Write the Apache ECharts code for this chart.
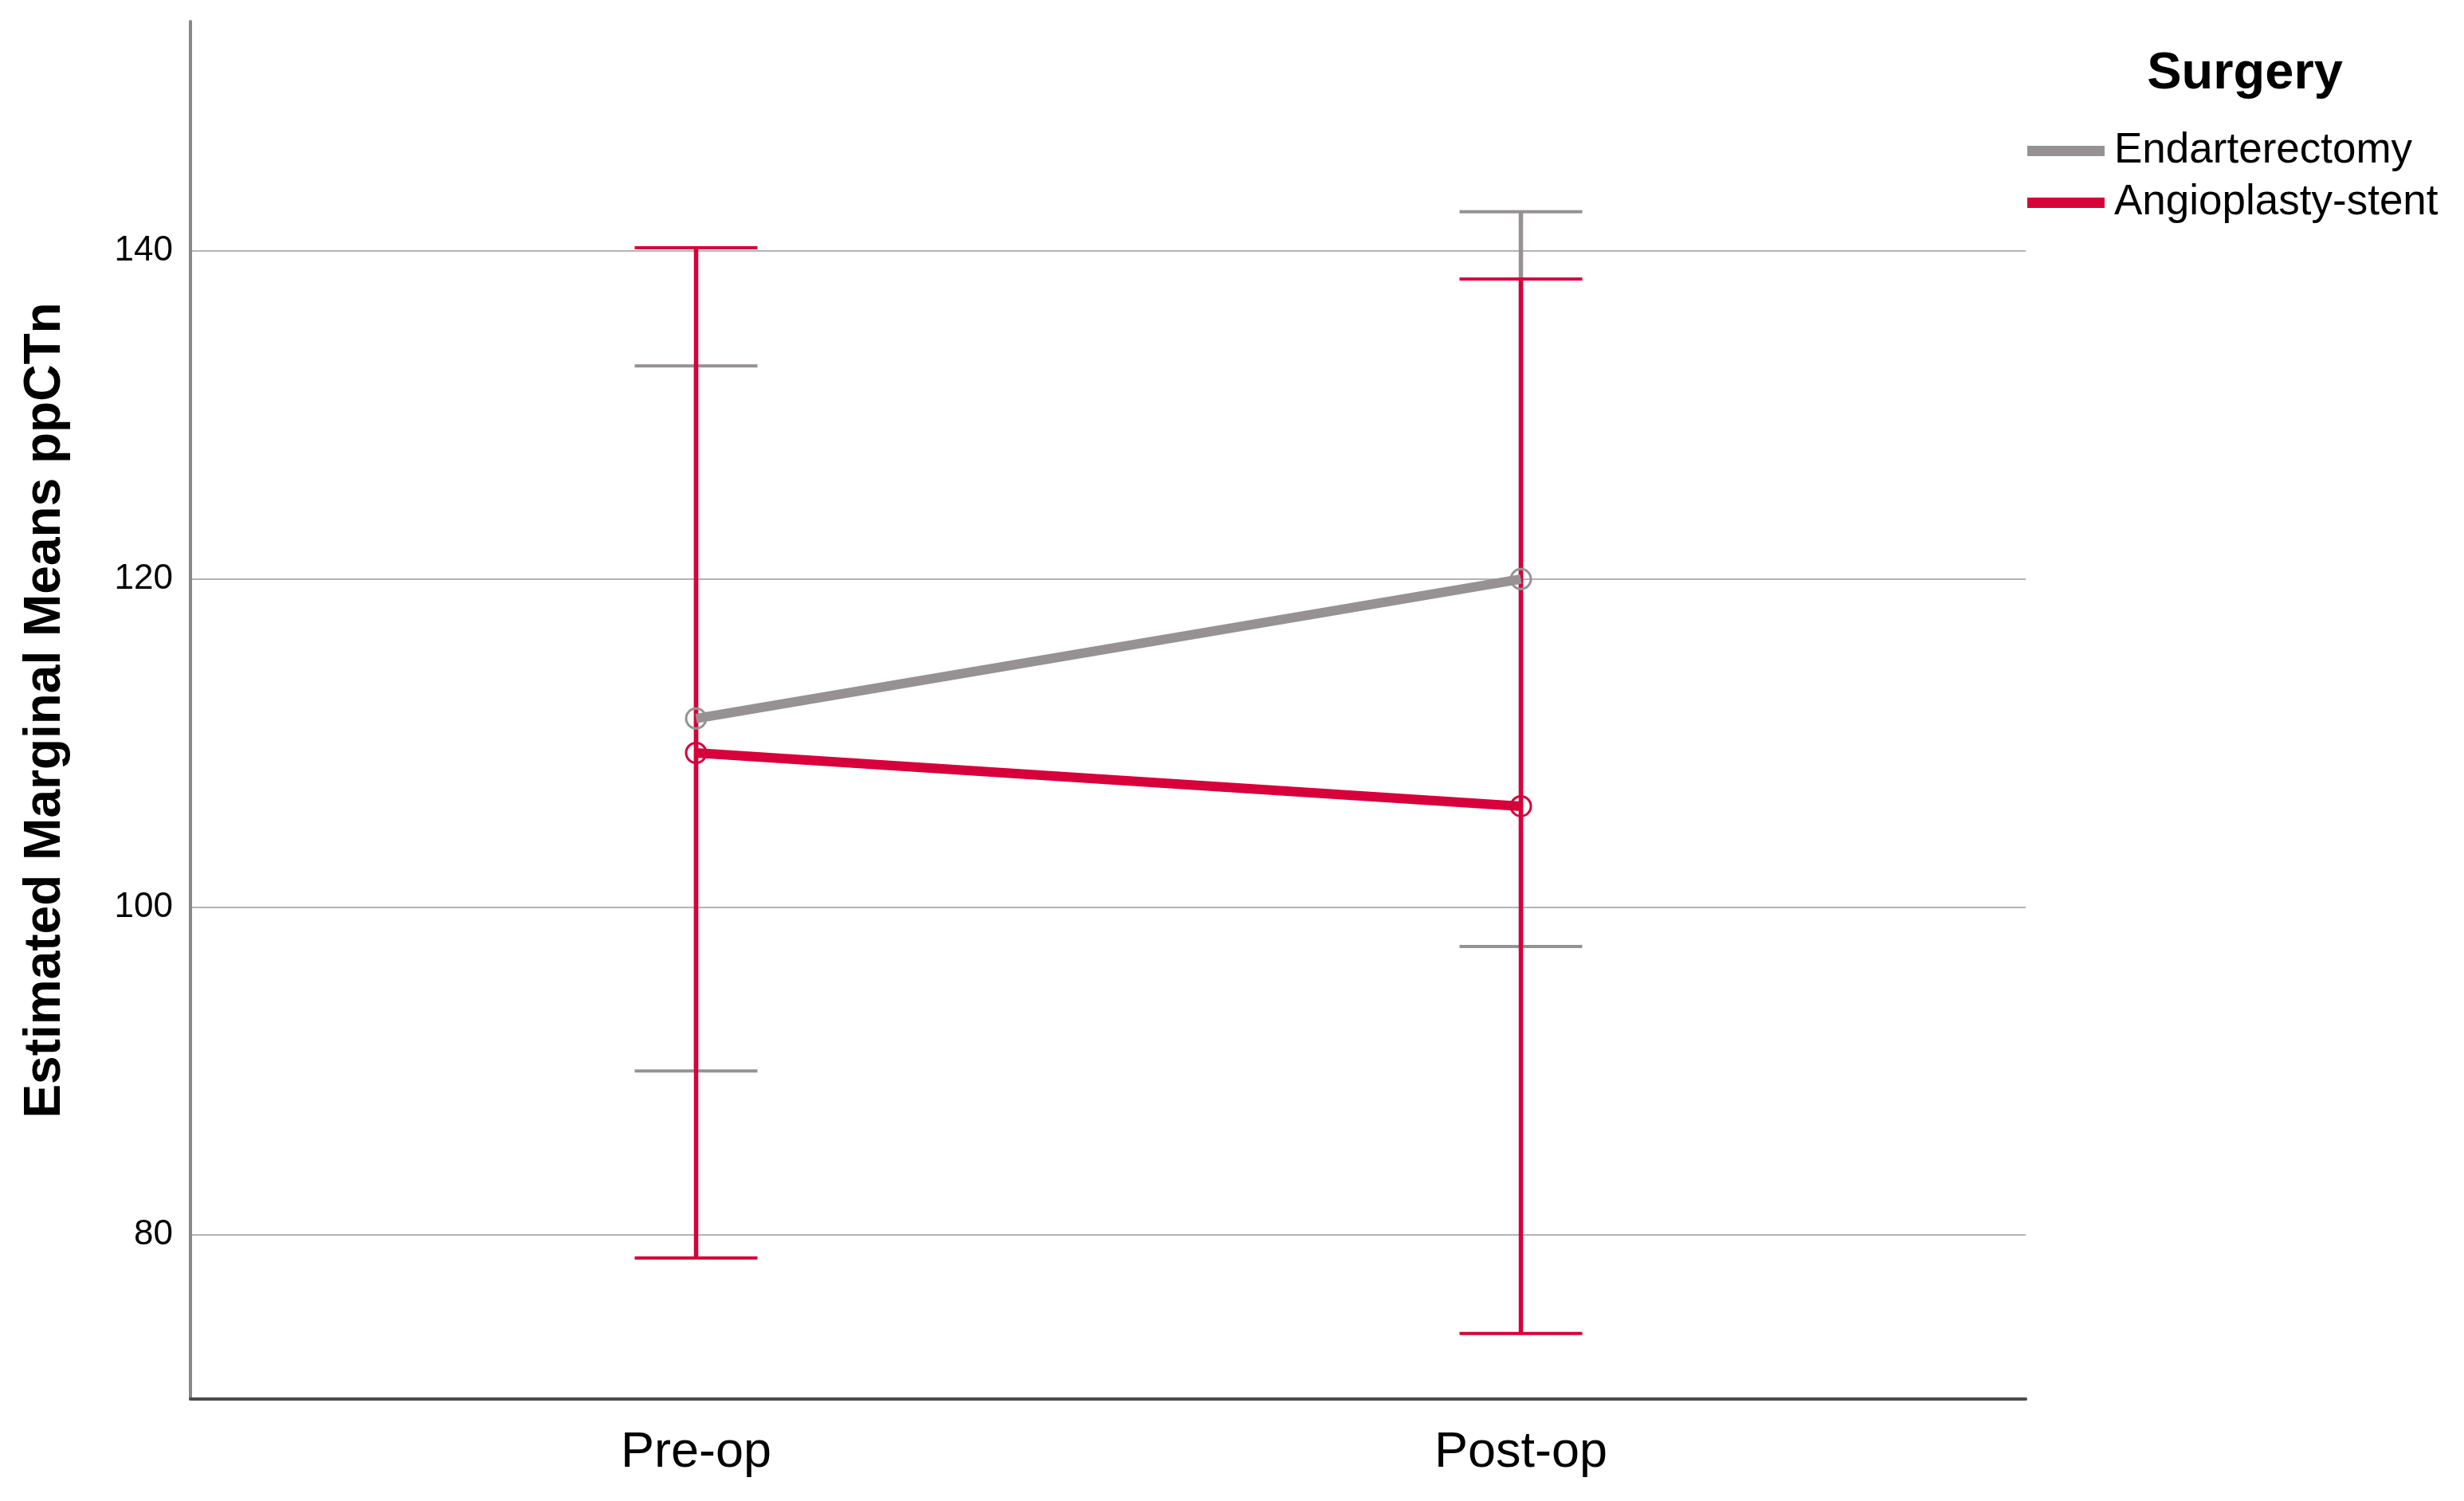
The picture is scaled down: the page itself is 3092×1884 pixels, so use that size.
<!DOCTYPE html>
<html>
<head>
<meta charset="utf-8">
<script src="https://cdn.jsdelivr.net/npm/echarts@6/dist/echarts.min.js"></script>
<style>
  html, body { margin: 0; padding: 0; background: #fff; }
  #chart { width: 3092px; height: 1884px; }
</style>
</head>
<body>
<div id="chart"></div>
<script>
// data
const categories = ['Pre-op', 'Post-op']
const groups = ['Endarterectomy', 'Angioplasty-stent']
const endoMean = [111.5, 120.0]
const endoLow = [90.0, 97.6]
const endoHigh = [133.0, 142.4]
const angioMean = [109.4, 106.15]
const angioLow = [78.6, 74.0]
const angioHigh = [140.2, 138.3]
const yTicks = [80, 100, 120, 140]

const grayColor = '#969293'
const redColor = '#d7003a'
const font = 'Liberation Sans'

const chart = echarts.init(document.getElementById('chart'))

// error bar: vertical line + two caps
function errorBar(color) {
  return function (params, api) {
    const x = api.value(0)
    const lo = api.coord([x, api.value(1)])
    const hi = api.coord([x, api.value(2)])
    const half = 77
    return {
      type: 'group',
      children: [
        { type: 'line', shape: { x1: lo[0], y1: lo[1], x2: hi[0], y2: hi[1] }, style: { stroke: color, lineWidth: 5.5 } },
        { type: 'line', shape: { x1: lo[0] - half, y1: lo[1], x2: lo[0] + half, y2: lo[1] }, style: { stroke: color, lineWidth: 4 } },
        { type: 'line', shape: { x1: hi[0] - half, y1: hi[1], x2: hi[0] + half, y2: hi[1] }, style: { stroke: color, lineWidth: 4 } }
      ]
    }
  }
}

function pts(vals) {
  return vals.map((v, i) => [i, v])
}
function bars(lo, hi) {
  return lo.map((v, i) => [i, v, hi[i]])
}

function meanLine(name, vals, color, z) {
  return {
    name: name,
    type: 'line',
    data: pts(vals),
    lineStyle: { width: 12, color: color },
    symbol: 'circle',
    symbolSize: 25,
    itemStyle: { color: 'rgba(255,255,255,0)', borderColor: color, borderWidth: 3 },
    z: z
  }
}

const option = {
  animation: false,
  backgroundColor: '#fff',
  title: {
    text: 'Surgery',
    left: 2812,
    top: 56,
    textAlign: 'center',
    textStyle: { fontFamily: font, fontSize: 65, fontWeight: 'bold', color: '#000' }
  },
  legend: {
    data: [
      { name: groups[0], icon: 'rect', itemStyle: { color: grayColor } },
      { name: groups[1], icon: 'rect', itemStyle: { color: redColor } }
    ],
    orient: 'vertical',
    left: 2544,
    top: 163,
    padding: 0,
    itemWidth: 95,
    itemHeight: 11,
    itemGap: 12,
    textStyle: { fontFamily: font, fontSize: 53, color: '#000', padding: [4, 0, 0, 8] }
  },
  grid: { left: 239, right: 550, top: 27, bottom: 128 },
  xAxis: {
    type: 'value',
    min: -0.613,
    max: 1.612,
    axisLine: { onZero: false, lineStyle: { color: '#4a4a4a', width: 4 } },
    axisTick: { show: false },
    splitLine: { show: false },
    axisLabel: {
      customValues: [0, 1],
      formatter: v => categories[v],
      fontFamily: font,
      fontSize: 63,
      color: '#000',
      margin: 36
    }
  },
  yAxis: {
    type: 'value',
    min: 70,
    max: 154,
    name: 'Estimated Marginal Means ppCTn',
    nameLocation: 'middle',
    nameGap: 150,
    nameTextStyle: { fontFamily: font, fontSize: 64, fontWeight: 'bold', color: '#000' },
    axisLine: { show: true, onZero: false, lineStyle: { color: '#868686', width: 4 } },
    axisTick: { show: false, customValues: yTicks },
    splitLine: { show: true, lineStyle: { color: '#b3b3b3', width: 2 } },
    axisLabel: {
      customValues: yTicks,
      fontFamily: font,
      fontSize: 44,
      color: '#000',
      margin: 22
    }
  },
  series: [
    {
      name: groups[0] + ' CI',
      type: 'custom',
      renderItem: errorBar(grayColor),
      data: bars(endoLow, endoHigh),
      z: 2
    },
    {
      name: groups[1] + ' CI',
      type: 'custom',
      renderItem: errorBar(redColor),
      data: bars(angioLow, angioHigh),
      z: 3
    },
    meanLine(groups[0], endoMean, grayColor, 4),
    meanLine(groups[1], angioMean, redColor, 5)
  ]
}

chart.setOption(option)
</script>
</body>
</html>
